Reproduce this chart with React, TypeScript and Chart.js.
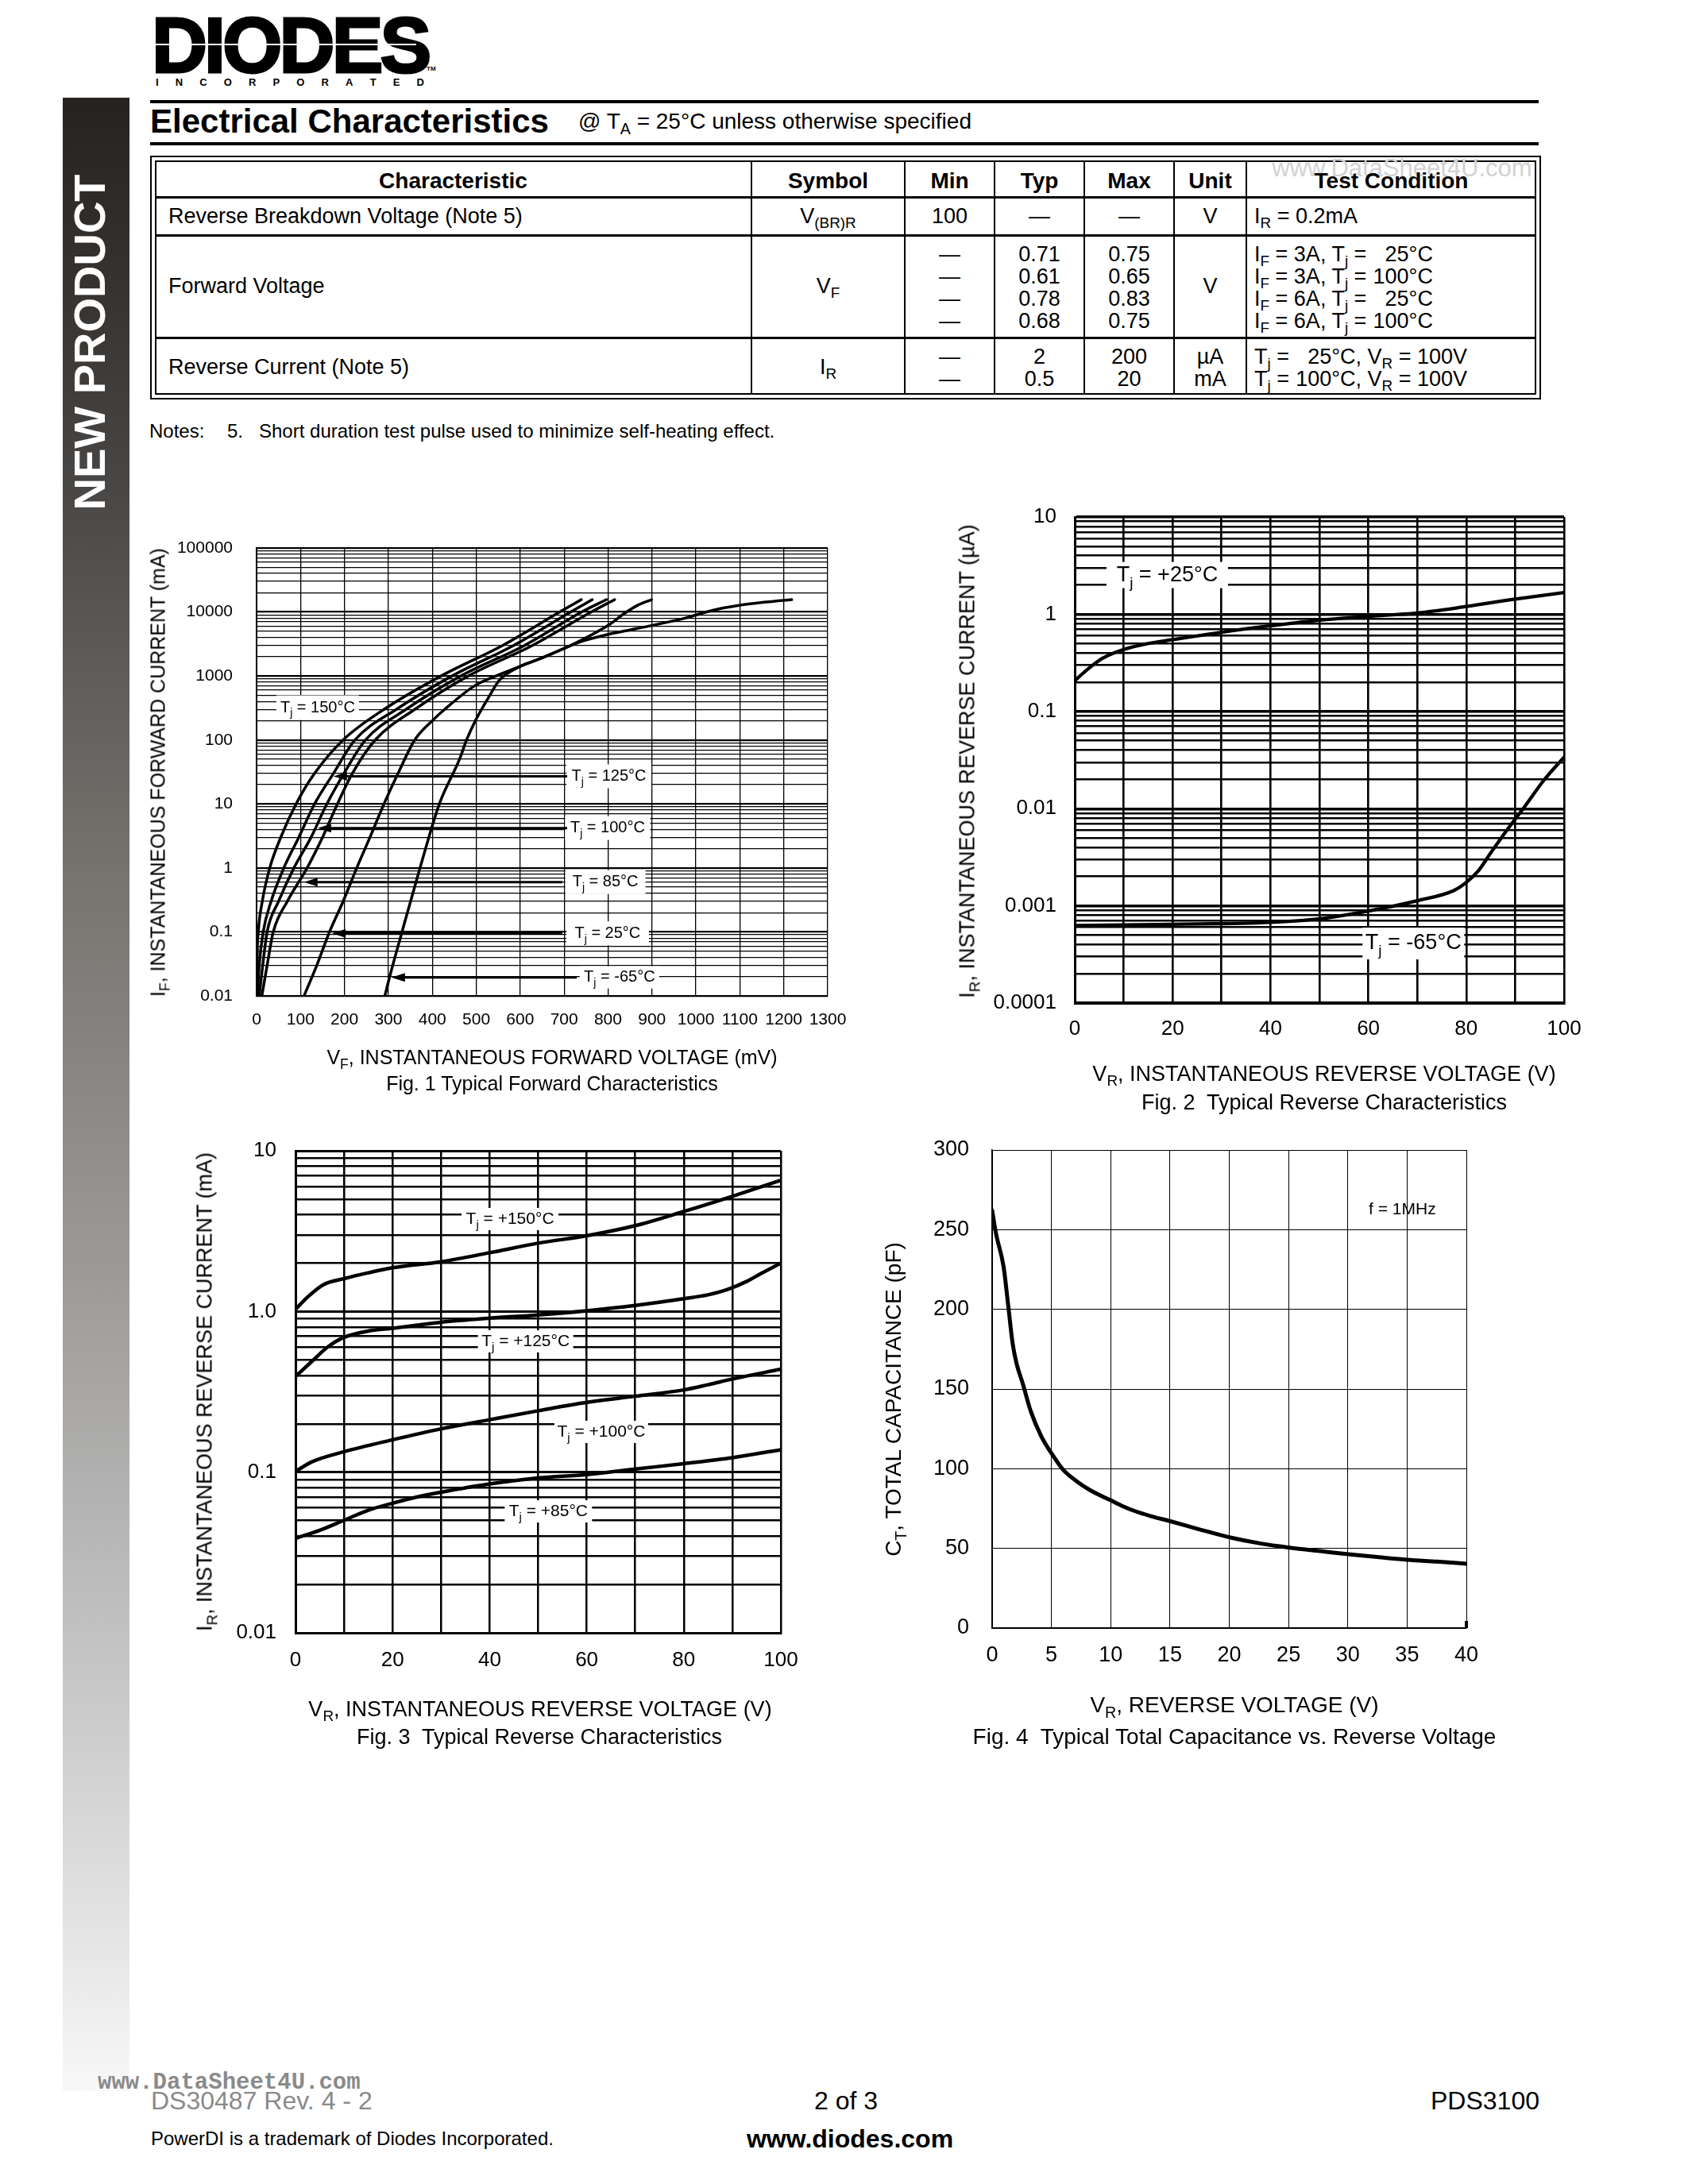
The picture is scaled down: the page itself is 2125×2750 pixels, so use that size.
import React, { useEffect, useRef } from "react";
import { Chart, registerables } from "chart.js";

Chart.register(...registerables);

const FONT = "'Liberation Sans', Arial, Helvetica, sans-serif";

/* ---------------- Fig. 1 : Typical Forward Characteristics ---------------- */
// points are [VF (mV), IF (mA)]
const fig1Tj150 = [[0.5, 0.01], [1, 0.03], [4, 0.1], [13, 0.3], [30, 1], [55, 3], [90, 10], [132, 30], [197, 100], [290, 300], [420, 1000], [560, 3000], [690, 10000], [739, 15600]];
const fig1Tj125 = [[2, 0.01], [6, 0.03], [15, 0.1], [33, 0.3], [62, 1], [96, 3], [132, 10], [175, 30], [224, 100], [318, 300], [445, 1000], [585, 3000], [715, 10000], [764, 15600]];
const fig1Tj100 = [[6, 0.01], [14, 0.03], [24, 0.1], [50, 0.3], [85, 1], [124, 3], [160, 10], [199, 30], [248, 100], [340, 300], [465, 1000], [610, 3000], [740, 10000], [796, 15600]];
const fig1Tj85 = [[12, 0.01], [24, 0.03], [38, 0.1], [70, 0.3], [115, 1], [150, 3], [184, 10], [218, 30], [270, 100], [360, 300], [482, 1000], [628, 3000], [762, 10000], [815, 15600]];
const fig1Tj25 = [[108, 0.01], [137, 0.03], [166, 0.1], [197, 0.3], [228, 1], [258, 3], [290, 10], [322, 30], [360, 100], [400, 200], [428, 300], [496, 700], [545, 1000], [596, 1375], [656, 2000], [715, 3000], [802, 6300], [835, 9250], [869, 12900], [899, 15600]];
const fig1TjM65 = [[292, 0.01], [303, 0.02], [331, 0.1], [372, 1], [416, 10], [462, 50], [478, 100], [498, 200], [531, 500], [552, 850], [596, 1375], [643, 1830], [736, 3400], [790, 4300], [865, 5500], [975, 8000], [1040, 10700], [1095, 12600], [1160, 14300], [1218, 15600]];
const fig1XTicks = [0, 100, 200, 300, 400, 500, 600, 700, 800, 900, 1000, 1100, 1200, 1300];
const fig1XTickLabels = ["0", "100", "200", "300", "400", "500", "600", "700", "800", "900", "1000", "1100", "1200", "1300"];
const fig1YTickLabels = ["0.01", "0.1", "1", "10", "100", "1000", "10000", "100000"];
const fig1LabelTexts = [" = 150°C", " = 125°C", " = 100°C", " = 85°C", " = 25°C", " = -65°C"];

/* ---------------- Fig. 2 : Typical Reverse Characteristics (µA) ---------------- */
// [VR (V), IR (µA)]
const fig2Tj25 = [[0, 0.207], [2.7, 0.273], [5.6, 0.35], [10, 0.434], [15, 0.5], [20, 0.548], [30, 0.653], [40, 0.76], [50, 0.87], [60, 0.95], [70, 1.03], [80, 1.2], [90, 1.43], [100, 1.67]];
const fig2TjM65 = [[0, 0.000628], [20, 0.000646], [40, 0.000676], [50, 0.000735], [60, 0.000885], [70, 0.00113], [77.5, 0.00144], [80, 0.00174], [82.5, 0.0023], [85, 0.0035], [88.4, 0.0061], [91.7, 0.0101], [95.8, 0.0194], [100, 0.0339]];
const fig2XTicks = [0, 10, 20, 30, 40, 50, 60, 70, 80, 90, 100];
const fig2XTickLabels = ["0", "", "20", "", "40", "", "60", "", "80", "", "100"];
const fig2YTickLabels = ["0.0001", "0.001", "0.01", "0.1", "1", "10"];

/* ---------------- Fig. 3 : Typical Reverse Characteristics (mA) ---------------- */
const fig3Tj150 = [[0, 1.03], [2.5, 1.23], [5.8, 1.47], [10, 1.6], [15, 1.74], [20, 1.87], [30, 2.04], [40, 2.32], [50, 2.66], [60, 2.96], [70, 3.42], [80, 4.19], [90, 5.21], [100, 6.56]];
const fig3Tj125 = [[0, 0.394], [3.4, 0.49], [6.6, 0.6], [10, 0.69], [15, 0.755], [20, 0.786], [30, 0.857], [40, 0.908], [50, 0.951], [60, 1.01], [70, 1.09], [80, 1.2], [85, 1.27], [89, 1.37], [93, 1.54], [96, 1.73], [100, 2.0]];
const fig3Tj100 = [[0, 0.101], [3.4, 0.116], [10, 0.134], [20, 0.159], [30, 0.186], [40, 0.212], [50, 0.241], [60, 0.272], [70, 0.297], [80, 0.325], [85, 0.35], [90, 0.38], [100, 0.437]];
const fig3Tj85 = [[0, 0.0388], [5, 0.0435], [10, 0.0502], [15, 0.058], [20, 0.064], [25, 0.070], [30, 0.075], [40, 0.0844], [50, 0.092], [60, 0.0965], [70, 0.1045], [80, 0.113], [90, 0.123], [100, 0.138]];
const fig3XTicks = [0, 10, 20, 30, 40, 50, 60, 70, 80, 90, 100];
const fig3XTickLabels = ["0", "", "20", "", "40", "", "60", "", "80", "", "100"];
const fig3YTickLabels = ["0.01", "0.1", "1.0", "10"];

/* ---------------- Fig. 4 : Total Capacitance vs Reverse Voltage ---------------- */
const fig4Ct = [[0, 262], [0.34, 247], [0.96, 227], [1.37, 201.5], [1.72, 179], [2.06, 166], [2.58, 153.5], [3.26, 136], [4.12, 120.7], [5.15, 108], [6.0, 99.2], [7.2, 91.7], [8.25, 86.6], [9.96, 80.3], [11, 76.5], [12, 73.5], [13.4, 70.2], [15.1, 66.9], [17.5, 61.9], [20.1, 56.8], [22.7, 53], [25.1, 50.5], [27.8, 48.2], [30.2, 46.2], [33, 44.2], [35, 42.9], [37.5, 41.7], [40, 40.4]];
const fig4XTicks = [0, 5, 10, 15, 20, 25, 30, 35, 40];
const fig4XTickLabels = ["0", "5", "10", "15", "20", "25", "30", "35", "40"];
const fig4YTicks = [0, 50, 100, 150, 200, 250, 300];
const fig4YTickLabels = ["0", "50", "100", "150", "200", "250", "300"];

/* ---------------- helpers ---------------- */
function logTicks(minExp: number, maxExp: number): number[] {
  const out: number[] = [];
  for (let e = minExp; e < maxExp; e++) {
    for (let m = 1; m <= 9; m++) out.push(Number((m * Math.pow(10, e)).toPrecision(6)));
  }
  out.push(Number(Math.pow(10, maxExp).toPrecision(6)));
  return out;
}
const isDecade = (v: number) => v > 0 && Math.abs(Math.log10(v) - Math.round(Math.log10(v))) < 1e-6;
const listLabel = (ticks: number[], labels: string[]) => (v: number) => {
  const i = ticks.findIndex((t) => Math.abs(t - v) < 1e-9);
  return i >= 0 ? labels[i] : "";
};
const decadeLabel = (minExp: number, labels: string[]) => (v: number) =>
  isDecade(v) ? labels[Math.round(Math.log10(v)) - minExp] ?? "" : "";

function drawTj(ctx: CanvasRenderingContext2D, px: number, py: number, l: any) {
  const main = `${l.size}px ${FONT}`;
  const small = `${Math.round(l.size * 0.7)}px ${FONT}`;
  ctx.font = main;
  const wh = ctx.measureText(l.head).width;
  const wt = ctx.measureText(l.tail).width;
  ctx.font = small;
  const ws = ctx.measureText(l.sub).width;
  let x = px - (wh + ws + wt) / 2;
  ctx.textBaseline = "middle";
  ctx.textAlign = "left";
  ctx.fillStyle = "#000";
  ctx.font = main;
  ctx.fillText(l.head, x, py);
  x += wh;
  ctx.font = small;
  ctx.fillText(l.sub, x, py + l.size * 0.38);
  x += ws;
  ctx.font = main;
  ctx.fillText(l.tail, x, py);
}

/* ---------------- chart configs ---------------- */
const fig1Cfg = {
  left: 323, top: 690, plotW: 719, plotH: 564, yw: 150, xh: 60, padTop: 50, padRight: 60,
  series: [fig1Tj150, fig1Tj125, fig1Tj100, fig1Tj85, fig1Tj25, fig1TjM65], lineW: 3.5,
  xMin: 0, xMax: 1300, xTicks: fig1XTicks, xLabel: listLabel(fig1XTicks, fig1XTickLabels), xPad: 18,
  yType: "logarithmic", yMin: 0.01, yMax: 100000, yTicks: logTicks(-2, 5), yLabel: decadeLabel(-2, fig1YTickLabels), yPad: 30,
  tickSize: 21, gridMinor: 1.3, gridMajor: 2.2, gridV: 1.3, borderW: 2,
  labels: [
    { x: 139, y: 320, head: "T", sub: "j", tail: fig1LabelTexts[0], size: 20, boxW: 104, boxH: 31 },
    { x: 802, y: 27, head: "T", sub: "j", tail: fig1LabelTexts[1], size: 20, boxW: 107, boxH: 30 },
    { x: 799, y: 4.2, head: "T", sub: "j", tail: fig1LabelTexts[2], size: 20, boxW: 107, boxH: 30 },
    { x: 794, y: 0.6, head: "T", sub: "j", tail: fig1LabelTexts[3], size: 20, boxW: 101, boxH: 30 },
    { x: 799, y: 0.095, head: "T", sub: "j", tail: fig1LabelTexts[4], size: 20, boxW: 104, boxH: 30 },
    { x: 826, y: 0.0195, head: "T", sub: "j", tail: fig1LabelTexts[5], size: 20, boxW: 100, boxH: 28 },
  ],
  arrows: [
    { y: 27, from: 707, to: 175 },
    { y: 4.2, from: 707, to: 139 },
    { y: 0.6, from: 696, to: 108 },
    { y: 0.095, from: 696, to: 172 },
    { y: 0.0195, from: 729, to: 307 },
  ],
  marks: [],
};

const fig2Cfg = {
  left: 1353, top: 651, plotW: 616, plotH: 612, yw: 150, xh: 60, padTop: 50, padRight: 60,
  series: [fig2Tj25, fig2TjM65], lineW: 4.3,
  xMin: 0, xMax: 100, xTicks: fig2XTicks, xLabel: listLabel(fig2XTicks, fig2XTickLabels), xPad: 17,
  yType: "logarithmic", yMin: 0.0001, yMax: 10, yTicks: logTicks(-4, 1), yLabel: decadeLabel(-4, fig2YTickLabels), yPad: 23,
  tickSize: 26, gridMinor: 2.6, gridMajor: 3.4, gridV: 2.6, borderW: 3,
  labels: [
    { x: 18.9, y: 2.53, head: "T", sub: "j", tail: " = +25°C", size: 27, boxW: 153, boxH: 33 },
    { x: 69.2, y: 0.00041, head: "T", sub: "j", tail: " = -65°C", size: 27, boxW: 128, boxH: 40 },
  ],
  arrows: [],
  marks: [],
};

const fig3Cfg = {
  left: 372, top: 1449, plotW: 611, plotH: 607, yw: 150, xh: 60, padTop: 50, padRight: 60,
  series: [fig3Tj150, fig3Tj125, fig3Tj100, fig3Tj85], lineW: 4.5,
  xMin: 0, xMax: 100, xTicks: fig3XTicks, xLabel: listLabel(fig3XTicks, fig3XTickLabels), xPad: 19,
  yType: "logarithmic", yMin: 0.01, yMax: 10, yTicks: logTicks(-2, 1), yLabel: decadeLabel(-2, fig3YTickLabels), yPad: 24,
  tickSize: 26, gridMinor: 2.5, gridMajor: 3, gridV: 2.5, borderW: 3,
  labels: [
    { x: 44.2, y: 3.76, head: "T", sub: "j", tail: " = +150°C", size: 21, boxW: 122, boxH: 28 },
    { x: 47.4, y: 0.652, head: "T", sub: "j", tail: " = +125°C", size: 21, boxW: 120, boxH: 28 },
    { x: 63.0, y: 0.178, head: "T", sub: "j", tail: " = +100°C", size: 21, boxW: 118, boxH: 28 },
    { x: 52.1, y: 0.057, head: "T", sub: "j", tail: " = +85°C", size: 21, boxW: 110, boxH: 28 },
  ],
  arrows: [],
  marks: [],
};

const fig4Cfg = {
  left: 1249, top: 1448, plotW: 597, plotH: 602, yw: 150, xh: 60, padTop: 50, padRight: 60,
  series: [fig4Ct], lineW: 5,
  xMin: 0, xMax: 40, xTicks: fig4XTicks, xLabel: listLabel(fig4XTicks, fig4XTickLabels), xPad: 18,
  yType: "linear", yMin: 0, yMax: 300, yTicks: fig4YTicks, yLabel: listLabel(fig4YTicks, fig4YTickLabels), yPad: 29,
  tickSize: 27, gridMinor: 1, gridMajor: 1, gridV: 1, borderW: 1.6,
  labels: [{ x: 34.6, y: 262.6, head: "f = 1MHz", sub: "", tail: "", size: 21 }],
  arrows: [],
  marks: [{ x: 40, y0: 0, y1: 4.5, w: 4 }],
};

/* ---------------- chart component ---------------- */
function ChartBox({ cfg }: { cfg: any }) {
  const ref = useRef<HTMLCanvasElement | null>(null);
  const W = cfg.yw + cfg.plotW + cfg.padRight;
  const H = cfg.padTop + cfg.plotH + cfg.xh;

  useEffect(() => {
    const canvas = ref.current;
    if (!canvas) return;
    const annotate = {
      id: "annotate",
      beforeDatasetsDraw(chart: any) {
        const ctx: CanvasRenderingContext2D = chart.ctx;
        const xs = chart.scales.x;
        const ys = chart.scales.y;
        ctx.save();
        for (const l of cfg.labels) {
          if (l.boxW) {
            const px = xs.getPixelForValue(l.x);
            const py = ys.getPixelForValue(l.y);
            ctx.fillStyle = "#fff";
            ctx.fillRect(px - l.boxW / 2, py - l.boxH / 2, l.boxW, l.boxH);
          }
        }
        for (const a of cfg.arrows) {
          const py = ys.getPixelForValue(a.y);
          const x1 = xs.getPixelForValue(a.from);
          const x2 = xs.getPixelForValue(a.to);
          ctx.strokeStyle = "#000";
          ctx.lineWidth = 3;
          ctx.beginPath();
          ctx.moveTo(x1, py);
          ctx.lineTo(x2 + 12, py);
          ctx.stroke();
          ctx.fillStyle = "#000";
          ctx.beginPath();
          ctx.moveTo(x2, py);
          ctx.lineTo(x2 + 17, py - 5.5);
          ctx.lineTo(x2 + 17, py + 5.5);
          ctx.closePath();
          ctx.fill();
        }
        for (const l of cfg.labels) {
          drawTj(ctx, xs.getPixelForValue(l.x), ys.getPixelForValue(l.y), l);
        }
        ctx.restore();
      },
      afterDatasetsDraw(chart: any) {
        const ctx: CanvasRenderingContext2D = chart.ctx;
        const xs = chart.scales.x;
        const ys = chart.scales.y;
        ctx.save();
        for (const m of cfg.marks) {
          const px = xs.getPixelForValue(m.x);
          ctx.strokeStyle = "#000";
          ctx.lineWidth = m.w;
          ctx.beginPath();
          ctx.moveTo(px, ys.getPixelForValue(m.y0));
          ctx.lineTo(px, ys.getPixelForValue(m.y1));
          ctx.stroke();
        }
        ctx.restore();
      },
    };

    const chart = new Chart(canvas, {
      type: "line",
      data: {
        datasets: cfg.series.map((s: number[][]) => ({
          data: s.map((p) => ({ x: p[0], y: p[1] })),
          borderColor: "#000",
          borderWidth: cfg.lineW,
          pointRadius: 0,
          pointHoverRadius: 0,
          fill: false,
          cubicInterpolationMode: "monotone",
          borderCapStyle: "round",
          borderJoinStyle: "round",
        })),
      },
      options: {
        animation: false,
        responsive: false,
        maintainAspectRatio: false,
        devicePixelRatio: 1,
        events: [],
        layout: { padding: { top: cfg.padTop, right: cfg.padRight, left: 0, bottom: 0 } },
        plugins: { legend: { display: false }, tooltip: { enabled: false }, title: { display: false } },
        scales: {
          x: {
            type: "linear",
            min: cfg.xMin,
            max: cfg.xMax,
            bounds: "data",
            afterBuildTicks: (s: any) => {
              s.ticks = cfg.xTicks.map((v: number) => ({ value: v }));
            },
            afterFit: (s: any) => {
              s.height = cfg.xh;
            },
            ticks: {
              autoSkip: false,
              maxRotation: 0,
              minRotation: 0,
              padding: cfg.xPad,
              color: "#000",
              font: { family: FONT, size: cfg.tickSize },
              callback: (v: any) => cfg.xLabel(Number(v)),
            },
            grid: { color: "#000", lineWidth: cfg.gridV, drawTicks: false },
            border: { display: true, color: "#000", width: cfg.borderW },
          },
          y: {
            type: cfg.yType,
            min: cfg.yMin,
            max: cfg.yMax,
            bounds: "data",
            afterBuildTicks: (s: any) => {
              s.ticks = cfg.yTicks.map((v: number) => ({ value: v }));
            },
            afterFit: (s: any) => {
              s.width = cfg.yw;
            },
            ticks: {
              autoSkip: false,
              padding: cfg.yPad,
              color: "#000",
              font: { family: FONT, size: cfg.tickSize },
              callback: (v: any) => cfg.yLabel(Number(v)),
            },
            grid: {
              color: "#000",
              drawTicks: false,
              lineWidth: (c: any) => {
                const v = c.tick ? c.tick.value : 0;
                if (cfg.yType === "logarithmic" && isDecade(v)) return cfg.gridMajor;
                return cfg.gridMinor;
              },
            },
            border: { display: true, color: "#000", width: cfg.borderW },
          },
        },
      } as any,
      plugins: [annotate],
    } as any);
    return () => chart.destroy();
  }, []);

  return (
    <canvas
      ref={ref}
      width={W}
      height={H}
      style={{ position: "absolute", left: cfg.left - cfg.yw, top: cfg.top - cfg.padTop, width: W, height: H }}
    />
  );
}

/* ---------------- HTML text helpers ---------------- */
function Sub({ children }: any) {
  return <span style={{ fontSize: "0.7em", position: "relative", top: "0.35em", lineHeight: 0 }}>{children}</span>;
}

function T({ x, y, size, children, align = "left", bold = false, color = "#000", family = FONT, extra = {} }: any) {
  const style: any = {
    position: "absolute",
    top: y - size / 2,
    fontSize: size,
    lineHeight: `${size}px`,
    fontFamily: family,
    fontWeight: bold ? "bold" : "normal",
    color,
    whiteSpace: "pre",
    ...extra,
  };
  if (align === "left") style.left = x;
  else if (align === "center") {
    style.left = x - 1000;
    style.width = 2000;
    style.textAlign = "center";
  } else {
    style.left = x - 2000;
    style.width = 2000;
    style.textAlign = "right";
  }
  return <div style={style}>{children}</div>;
}

function VT({ x, y, size, children }: any) {
  return (
    <div
      style={{
        position: "absolute",
        left: x - 600,
        top: y - size / 2,
        width: 1200,
        textAlign: "center",
        fontSize: size,
        lineHeight: `${size}px`,
        fontFamily: FONT,
        whiteSpace: "pre",
        transform: "rotate(-90deg)",
        transformOrigin: "50% 50%",
        color: "#000",
      }}
    >
      {children}
    </div>
  );
}

function Box({ x, y, w, h, bg = "#000", border }: any) {
  return (
    <div
      style={{
        position: "absolute",
        left: x,
        top: y,
        width: w,
        height: h,
        background: border ? "transparent" : bg,
        border: border ? `${border}px solid #000` : undefined,
        boxSizing: "border-box",
      }}
    />
  );
}

/* ---------------- table layout ---------------- */
const colEdges = [195, 946, 1139, 1252, 1365, 1478, 1569, 1934];
const cc = (i: number) => (colEdges[i] + colEdges[i + 1]) / 2;
const tableHeaders = ["Characteristic", "Symbol", "Min", "Typ", "Max", "Unit", "Test Condition"];
const vfTyp = ["0.71", "0.61", "0.78", "0.68"];
const vfMax = ["0.75", "0.65", "0.83", "0.75"];
const vfCondCurrent = ["3A", "3A", "6A", "6A"];
const vfCondTemp = ["25°C", "100°C", "25°C", "100°C"];
const irTyp = ["2", "0.5"];
const irMax = ["200", "20"];
const irUnit = ["µA", "mA"];
const irCondTemp = ["25°C", "100°C"];

export default function App() {
  useEffect(() => {
    document.body.style.margin = "0";
    document.documentElement.style.overflow = "hidden";
  }, []);

  const TS = 27;
  const rowVF = [320, 348, 376, 404];
  const rowIR = [449, 477];

  return (
    <div style={{ position: "absolute", left: 0, top: 0, width: 2125, height: 2750, background: "#fff", overflow: "hidden", fontFamily: FONT }}>
      {/* side bar */}
      <div
        style={{
          position: "absolute",
          left: 79,
          top: 123,
          width: 84,
          height: 2510,
          background:
            "linear-gradient(to bottom, #252220 0%, #33302e 8%, #484644 19%, #77736f 39%, #8f8c89 52%, #aaa9a8 66%, #c6c6c6 79%, #e4e4e4 92%, #f8f8f8 100%)",
        }}
      />
      <div
        style={{
          position: "absolute",
          left: 113 - 300,
          top: 431 - 28,
          width: 600,
          textAlign: "center",
          fontFamily: FONT,
          fontWeight: "bold",
          fontSize: 56,
          lineHeight: "56px",
          color: "#fff",
          transform: "rotate(-90deg)",
          transformOrigin: "50% 50%",
          whiteSpace: "pre",
        }}
      >
        NEW PRODUCT
      </div>

      {/* logo */}
      <div
        style={{
          position: "absolute",
          left: 191,
          top: 8,
          fontFamily: FONT,
          fontWeight: 900,
          fontSize: 98,
          lineHeight: "98px",
          letterSpacing: -4,
          transform: "scaleX(0.99)",
          transformOrigin: "0 0",
          WebkitTextStroke: "3px #000",
          color: "#000",
          whiteSpace: "pre",
        }}
      >
        DIODES
      </div>
      <Box x={194} y={55} w={330} h={2} bg="#fff" />
      <T x={537} y={87} size={8} bold>
        TM
      </T>
      <div
        style={{
          position: "absolute",
          left: 196,
          top: 97,
          width: 338,
          display: "flex",
          justifyContent: "space-between",
          fontFamily: FONT,
          fontWeight: "bold",
          fontSize: 13,
          lineHeight: "13px",
        }}
      >
        {"INCORPORATED".split("").map((c, i) => (
          <span key={i}>{c}</span>
        ))}
      </div>

      {/* title rules */}
      <Box x={189} y={126} w={1748} h={4} />
      <T x={189} y={153} size={42} bold>
        Electrical Characteristics
      </T>
      <T x={728} y={153} size={28}>
        @ T<Sub>A</Sub> = 25°C unless otherwise specified
      </T>
      <Box x={189} y={179} w={1748} h={4} />

      {/* table borders */}
      <Box x={189} y={196} w={1751} h={307} border={2.5} />
      <Box x={195} y={202} w={1739} h={295} border={2.5} />
      <Box x={195} y={247} w={1739} h={2.5} />
      <Box x={195} y={295} w={1739} h={2.5} />
      <Box x={195} y={424} w={1739} h={2.5} />
      {colEdges.slice(1, 7).map((x, i) => (
        <Box key={i} x={x - 1} y={202} w={2} h={295} />
      ))}
      <T x={1765} y={211} size={31} align="center" color="#d2d2d2">
        www.DataSheet4U.com
      </T>

      {/* header */}
      {tableHeaders.map((h, i) => (
        <T key={h} x={cc(i)} y={228} size={28} bold align="center">
          {h}
        </T>
      ))}

      {/* row 1 */}
      <T x={212} y={272} size={TS}>
        Reverse Breakdown Voltage (Note 5)
      </T>
      <T x={cc(1)} y={272} size={TS} align="center">
        V<Sub>(BR)R</Sub>
      </T>
      <T x={cc(2)} y={272} size={TS} align="center">
        100
      </T>
      <T x={cc(3)} y={272} size={TS} align="center">
        —
      </T>
      <T x={cc(4)} y={272} size={TS} align="center">
        —
      </T>
      <T x={cc(5)} y={272} size={TS} align="center">
        V
      </T>
      <T x={1579} y={272} size={TS}>
        I<Sub>R</Sub> = 0.2mA
      </T>

      {/* row 2 */}
      <T x={212} y={360} size={TS}>
        Forward Voltage
      </T>
      <T x={cc(1)} y={360} size={TS} align="center">
        V<Sub>F</Sub>
      </T>
      {rowVF.map((y, i) => (
        <React.Fragment key={i}>
          <T x={cc(2)} y={y} size={TS} align="center">
            —
          </T>
          <T x={cc(3)} y={y} size={TS} align="center">
            {vfTyp[i]}
          </T>
          <T x={cc(4)} y={y} size={TS} align="center">
            {vfMax[i]}
          </T>
          <T x={1579} y={y} size={TS}>
            I<Sub>F</Sub> = {vfCondCurrent[i]}, T<Sub>j</Sub> ={" "}
            <span style={{ display: "inline-block", width: 76, textAlign: "right" }}>{vfCondTemp[i]}</span>
          </T>
        </React.Fragment>
      ))}
      <T x={cc(5)} y={360} size={TS} align="center">
        V
      </T>

      {/* row 3 */}
      <T x={212} y={462} size={TS}>
        Reverse Current (Note 5)
      </T>
      <T x={cc(1)} y={462} size={TS} align="center">
        I<Sub>R</Sub>
      </T>
      {rowIR.map((y, i) => (
        <React.Fragment key={i}>
          <T x={cc(2)} y={y} size={TS} align="center">
            —
          </T>
          <T x={cc(3)} y={y} size={TS} align="center">
            {irTyp[i]}
          </T>
          <T x={cc(4)} y={y} size={TS} align="center">
            {irMax[i]}
          </T>
          <T x={cc(5)} y={y} size={TS} align="center">
            {irUnit[i]}
          </T>
          <T x={1579} y={y} size={TS}>
            T<Sub>j</Sub> ={" "}
            <span style={{ display: "inline-block", width: 76, textAlign: "right" }}>{irCondTemp[i]}</span>, V<Sub>R</Sub> = 100V
          </T>
        </React.Fragment>
      ))}

      {/* notes */}
      <T x={188} y={543} size={24}>
        Notes:
      </T>
      <T x={286} y={543} size={24}>
        5.
      </T>
      <T x={326} y={543} size={24}>
        Short duration test pulse used to minimize self-heating effect.
      </T>

      {/* charts */}
      <ChartBox cfg={fig1Cfg} />
      <ChartBox cfg={fig2Cfg} />
      <ChartBox cfg={fig3Cfg} />
      <ChartBox cfg={fig4Cfg} />

      {/* Fig 1 texts */}
      <VT x={199} y={972} size={25}>
        I<Sub>F</Sub>, INSTANTANEOUS FORWARD CURRENT (mA)
      </VT>
      <T x={695} y={1331} size={25} align="center">
        V<Sub>F</Sub>, INSTANTANEOUS FORWARD VOLTAGE (mV)
      </T>
      <T x={695} y={1364} size={25} align="center">
        Fig. 1 Typical Forward Characteristics
      </T>

      {/* Fig 2 texts */}
      <VT x={1218} y={958} size={27}>
        I<Sub>R</Sub>, INSTANTANEOUS REVERSE CURRENT (µA)
      </VT>
      <T x={1667} y={1352} size={27} align="center">
        V<Sub>R</Sub>, INSTANTANEOUS REVERSE VOLTAGE (V)
      </T>
      <T x={1667} y={1388} size={27} align="center">
        Fig. 2  Typical Reverse Characteristics
      </T>

      {/* Fig 3 texts */}
      <VT x={258} y={1752} size={27}>
        I<Sub>R</Sub>, INSTANTANEOUS REVERSE CURRENT (mA)
      </VT>
      <T x={680} y={2152} size={27} align="center">
        V<Sub>R</Sub>, INSTANTANEOUS REVERSE VOLTAGE (V)
      </T>
      <T x={679} y={2187} size={27} align="center">
        Fig. 3  Typical Reverse Characteristics
      </T>

      {/* Fig 4 texts */}
      <VT x={1125} y={1762} size={28}>
        C<Sub>T</Sub>, TOTAL CAPACITANCE (pF)
      </VT>
      <T x={1554} y={2147} size={28} align="center">
        V<Sub>R</Sub>, REVERSE VOLTAGE (V)
      </T>
      <T x={1554} y={2187} size={28} align="center">
        Fig. 4  Typical Total Capacitance vs. Reverse Voltage
      </T>

      {/* footer */}
      <T x={123} y={2622} size={29} bold color="#8a8a8a" family="'Liberation Mono', 'DejaVu Sans Mono', monospace">
        www.DataSheet4U.com
      </T>
      <T x={190} y={2645} size={32} color="#8a8a8a">
        DS30487 Rev. 4 - 2
      </T>
      <T x={1065} y={2645} size={32} align="center">
        2 of 3
      </T>
      <T x={1938} y={2645} size={32} align="right">
        PDS3100
      </T>
      <T x={190} y={2693} size={24}>
        PowerDI is a trademark of Diodes Incorporated.
      </T>
      <T x={1070} y={2693} size={32} bold align="center">
        www.diodes.com
      </T>
    </div>
  );
}
